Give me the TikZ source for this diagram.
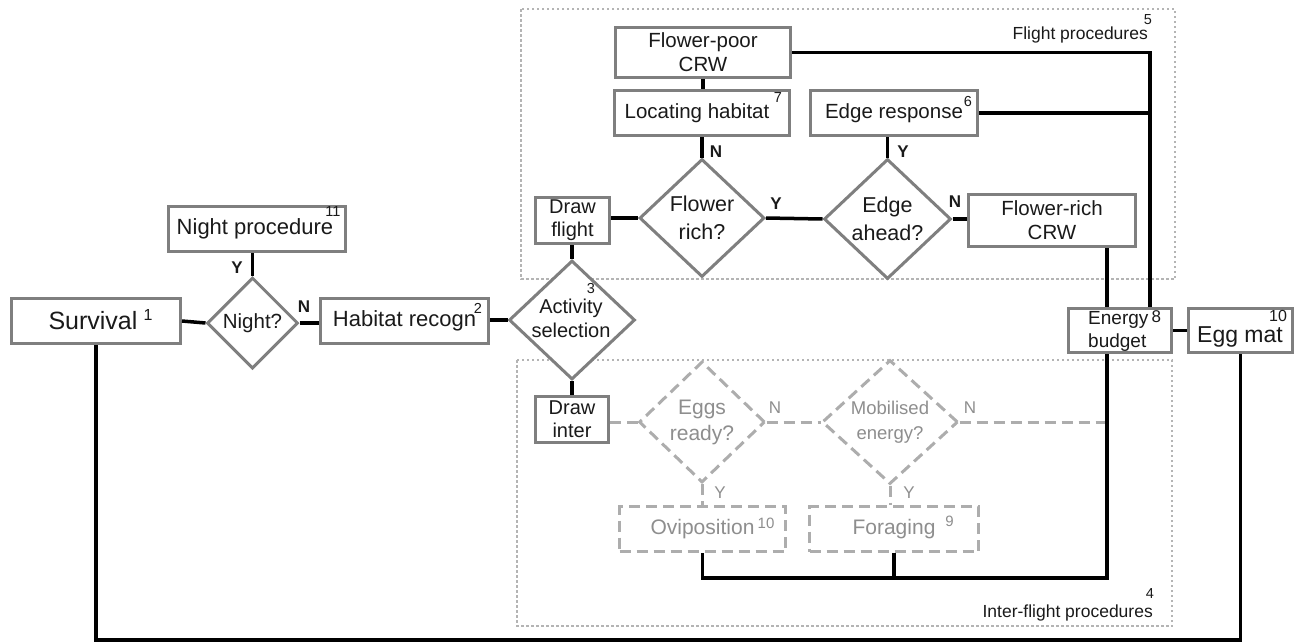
\documentclass[tikz,border=0pt]{standalone}
\usepackage{fontspec}
\setmainfont{Liberation Sans}
\usetikzlibrary{shapes.geometric}
\definecolor{bord}{HTML}{7F7F7F}
\definecolor{lgray}{HTML}{ADADAD}
\definecolor{tgray}{HTML}{8E8E8E}
\definecolor{txt}{HTML}{1A1A1A}
\definecolor{grpc}{HTML}{B4B4B4}
\newcommand{\fs}[1]{\fontsize{#1}{#1}\selectfont}
\begin{document}
\begin{tikzpicture}[x=1pt,y=-1pt,line join=miter,
  box/.style={draw=bord,line width=3pt,rectangle,inner sep=0pt,fill=white,text=txt,align=center,font=\fontsize{20.5}{24}\selectfont},
  dia/.style={draw=bord,line width=3pt,diamond,inner sep=0pt,fill=white},
  dbox/.style={draw=lgray,line width=3pt,dash pattern=on 11pt off 6pt,rectangle,inner sep=0pt,fill=white,text=tgray,align=center,font=\fontsize{21}{24}\selectfont},
  ddia/.style={draw=lgray,line width=3pt,dash pattern=on 11pt off 6pt,diamond,inner sep=0pt,fill=white},
  dtxt/.style={text=txt,align=center,inner sep=0pt,font=\fontsize{20.5}{25}\selectfont},
  gtxt/.style={text=tgray,align=center,inner sep=0pt,font=\fontsize{21}{26}\selectfont},
  conn/.style={line width=3.5pt,black},
  dconn/.style={line width=3pt,lgray,dash pattern=on 11pt off 6pt},
  grp/.style={draw=grpc,line width=2.5pt,dash pattern=on 2.5pt off 2.5pt},
  sup/.style={text=txt,inner sep=0pt,font=\fs{14.5}},
  gsup/.style={text=tgray,inner sep=0pt,font=\fs{15}},
  yn/.style={text=txt,inner sep=0pt,font=\fs{17}\bfseries},
  gyn/.style={text=tgray,inner sep=0pt,font=\fs{17}},
  grplab/.style={text=txt,inner sep=0pt,font=\fs{17.5},anchor=east}]
\useasboundingbox (0,0) rectangle (1304,643);
% groups
\draw[grp] (521,9) rectangle (1175,279);
\draw[grp] (517,360) rectangle (1172,626);
\node[grplab] (flab) at (1148,35) {Flight procedures};
\node[sup] (s5) at (1148,20) {5};
\node[grplab] (ilab) at (1153,613) {Inter-flight procedures};
\node[sup] (s4) at (1150,594) {4};

% junction coordinates
\coordinate (jr) at (1150,307);
\coordinate (jl) at (1107,0);
\coordinate (jb) at (1107,578);
\coordinate (jbot) at (0,640);

% main row
\node[box,minimum width=169,minimum height=45,font=\fontsize{25}{28}\selectfont] (surv) at (96,321) {Survival\hspace*{6pt}};
\node[sup,font=\fs{16}] (s1) at (148,315) {1};
\node[dia,minimum width=91,minimum height=91] (night) at (252.5,323) {};
\node[dtxt,font=\fs{20.5}] (nightT) at (night) {Night?};
\node[box,minimum width=177,minimum height=45,font=\fontsize{22}{24}\selectfont] (nproc) at (257,229) {Night procedure\hspace*{4pt}};
\node[sup] (s11) at (333,212) {11};
\node[box,minimum width=168,minimum height=45,font=\fontsize{22}{24}\selectfont] (hab) at (404.5,321) {Habitat recogn};
\node[sup] (s2) at (478,308) {2};
\node[dia,minimum width=126,minimum height=119] (act) at (572,320) {};
\node[dtxt,font=\fontsize{20}{24}\selectfont] (actT) at (571,318) {Activity\\selection};
\node[sup] (s3) at (591,289) {3};

\node[box,minimum width=74,minimum height=46,font=\fontsize{20}{23}\selectfont] (dflight) at (572.5,220.5) {Draw\\flight};
\node[box,minimum width=73,minimum height=46,font=\fontsize{20}{23}\selectfont] (dinter) at (572,419.5) {Draw\\inter};

% flight procedures
\node[box,minimum width=175,minimum height=50] (fpoor) at (703,52.5) {Flower-poor\\CRW};
\node[box,minimum width=175,minimum height=45] (loc) at (702,113) {Locating habitat\hspace*{10pt}};
\node[sup] (s7) at (778,98) {7};
\node[dia,minimum width=125,minimum height=118] (frd) at (702,218) {};
\node[dtxt,font=\fontsize{21.5}{28}\selectfont] (frdT) at (frd) {Flower\\rich?};
\node[box,minimum width=167,minimum height=45] (eresp) at (894,113) {Edge response};
\node[sup] (s6) at (968,102) {6};
\node[dia,minimum width=127,minimum height=120] (ead) at (887.5,219) {};
\node[dtxt,font=\fontsize{21.5}{28}\selectfont] (eadT) at (ead) {Edge\\ahead?};
\node[box,minimum width=167,minimum height=52] (frich) at (1052,220.5) {Flower-rich\\CRW};

% energy and eggs
\node[box,minimum width=103,minimum height=44] (ebud) at (1120,330.5) {};
\node[text=txt,inner sep=0pt,align=left,anchor=west,font=\fontsize{19}{23}\selectfont] (ebudT) at (1088,331) {Energy\,\raisebox{1.5pt}{\fs{17}8}\\budget};
\node[box,minimum width=104,minimum height=44] (egg) at (1240.5,330.5) {};
\node[text=txt,inner sep=0pt,font=\fs{23}] (eggT) at (1240,337) {Egg mat};
\node[sup,font=\fs{16}] (s10) at (1278,316) {10};

% inter-flight procedures
\node[ddia,minimum width=126,minimum height=121] (eggs) at (702,422) {};
\node[gtxt] (eggsT) at (eggs) {Eggs\\ready?};
\node[ddia,minimum width=136,minimum height=124] (mob) at (890,422) {};
\node[gtxt,font=\fontsize{18.5}{25}\selectfont] (mobT) at (mob) {Mobilised\\energy?};
\node[dbox,minimum width=166,minimum height=45] (ovi) at (702.5,529) {Oviposition};
\node[gsup] (s10b) at (766,523) {10};
\node[dbox,minimum width=169,minimum height=45] (forag) at (894,529) {Foraging};
\node[gsup] (s9) at (949.5,521) {9};

% solid connectors
\draw[conn] (surv.east) -- (night.west);
\draw[conn] (night.north) -- (night.north |- nproc.south);
\draw[conn] (night.east) -- (night.east -| hab.west);
\draw[conn] (hab.east |- act.west) -- (act.west);
\draw[conn] (act.north) -- (act.north |- dflight.south);
\draw[conn] (act.south) -- (act.south |- dinter.north);
\draw[conn] (frd.west -| dflight.east) -- (frd.west);
\draw[conn] (frd.north) -- (frd.north |- loc.south);
\draw[conn] (loc.north -| fpoor.south) -- (fpoor.south);
\draw[conn] (frd.east) -- (ead.west);
\draw[conn] (ead.north) -- (ead.north |- eresp.south);
\draw[conn] (ead.east) -- (ead.east -| frich.west);
\draw[conn] (fpoor.east) -| (jr);
\draw[conn] (eresp.east) -- (eresp.east -| jr);
\draw[conn] (frich.south -| jl) -- (ebud.north -| jl);
\draw[conn] (ebud.east) -- (egg.west);
\draw[conn] (ebud.south -| jb) -- (jb) -- (jb -| ovi.south) -- (ovi.south);
\draw[conn] (forag.south) -- (forag.south |- jb);
\draw[conn] (egg.south) -- (egg.south |- jbot) -- (surv.south |- jbot) -- (surv.south);

% dashed connectors
\draw[dconn] (dinter.east |- eggs.west) -- (eggs.west);
\draw[dconn] (eggs.east) -- (mob.west);
\draw[dconn,shorten >=1.75pt] (mob.east) -- (mob.east -| jb);
\draw[dconn] (eggs.south) -- (eggs.south |- ovi.north);
\draw[dconn] (mob.south) -- (mob.south |- forag.north);

% labels
\node[yn] (y1) at (237,268) {Y};
\node[yn] (n1) at (304,307) {N};
\node[yn] (n2) at (716,152) {N};
\node[yn] (y2) at (776,204) {Y};
\node[yn] (y3) at (903,152) {Y};
\node[yn] (n3) at (955,202) {N};
\node[gyn] (n4) at (775,408) {N};
\node[gyn] (n5) at (970,408) {N};
\node[gyn] (y4) at (720,493) {Y};
\node[gyn] (y5) at (909,493) {Y};
\end{tikzpicture}
\end{document}
